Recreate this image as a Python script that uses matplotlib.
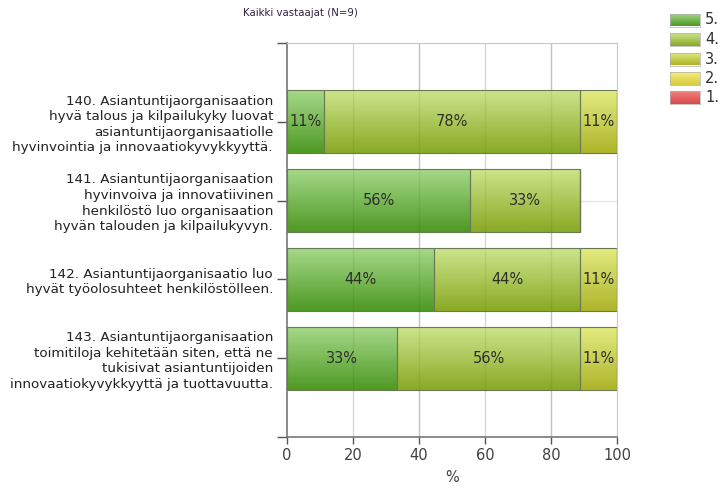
import numpy as np
import matplotlib
matplotlib.use("Agg")
import matplotlib.pyplot as plt
from matplotlib.colors import LinearSegmentedColormap

plt.rcParams['font.family'] = ['DejaVu Sans']

questions = [
    "140. Asiantuntijaorganisaation\nhyvä talous ja kilpailukyky luovat\nasiantuntijaorganisaatiolle\nhyvinvointia ja innovaatiokyvykkyyttä.",
    "141. Asiantuntijaorganisaation\nhyvinvoiva ja innovatiivinen\nhenkilöstö luo organisaation\nhyvän talouden ja kilpailukyvyn.",
    "142. Asiantuntijaorganisaatio luo\nhyvät työolosuhteet henkilöstölleen.",
    "143. Asiantuntijaorganisaation\ntoimitiloja kehitetään siten, että ne\ntukisivat asiantuntijoiden\ninnovaatiokyvykkyyttä ja tuottavuutta.",
]
n_respondents = 9
levels = ["5.", "4.", "3.", "2.", "1."]
# answer counts per question for each level
count_5 = [1, 5, 4, 3]
count_4 = [7, 3, 4, 5]
count_3 = [1, 0, 1, 1]
count_2 = [0, 0, 0, 0]
count_1 = [0, 0, 0, 0]
series = [count_5, count_4, count_3, count_2, count_1]
x_ticks = [0, 20, 40, 60, 80, 100]
title = "Kaikki vastaajat (N=9)"

# (top, bottom) colours of each gradient fill
grad = {
    "5.": ("#a6d98a", "#4f9a24"),
    "4.": ("#cde58c", "#8aaa26"),
    "3.": ("#e4ec82", "#aeb52a"),
    "2.": ("#f4ec7c", "#d8cc3c"),
    "1.": ("#f48080", "#d84848"),
}

fig = plt.figure(figsize=(7.18, 4.88), dpi=100)
ax = fig.add_axes([287/718, 51/488, 330/718, 394/488])

ypos = np.arange(len(questions))
bar_h = 0.8
left = np.zeros(len(questions))
for lvl, counts in zip(levels, series):
    vals = np.asarray(counts, dtype=float) / n_respondents * 100
    bars = ax.barh(ypos, vals, left=left, height=bar_h, color="none",
                   edgecolor="#6a7a55", linewidth=0.8, zorder=3)
    cmap = LinearSegmentedColormap.from_list(lvl, list(grad[lvl]))
    for b, v, l in zip(bars, vals, left):
        if v <= 0:
            continue
        x0, y0 = b.get_x(), b.get_y()
        w, h = b.get_width(), b.get_height()
        g = np.linspace(0, 1, 64).reshape(-1, 1)
        im = ax.imshow(g, cmap=cmap, aspect="auto",
                       extent=(x0, x0 + w, y0 + h, y0), origin="upper",
                       interpolation="bilinear", zorder=2)
        im.set_clip_path(b)
        ax.text(l + v / 2, y0 + h / 2, f"{v:.0f}%", ha="center",
                va="center", fontsize=10.5, color="#2e2e2e", zorder=4)
    left += vals

ax.set_xlim(0, 100)
ax.set_ylim(len(questions), -1)
ax.set_xticks(x_ticks)
ax.set_xticklabels([str(t) for t in x_ticks], fontsize=10.5, color="#404040")
ax.set_yticks(list(ypos))
ax.set_yticks([-1, len(questions)], minor=True)
ax.set_yticklabels(questions, fontsize=9.7, color="#222222", linespacing=1.26)
ax.tick_params(axis="y", which="both", direction="out", length=7, width=1,
               color="#555555", pad=3)
ax.tick_params(axis="x", direction="out", length=5, width=1,
               color="#555555", pad=3)
ax.set_xlabel("%", fontsize=10.5, color="#404040", labelpad=5)

# light grid, alternating shades on the x grid; a faint copy shows through the bars
for t in x_ticks[1:-1]:
    shade = "#cfcfcf" if t % 40 == 0 else "#e6e6e6"
    ax.axvline(t, color=shade, linewidth=1, zorder=1)
    ax.axvline(t, color="#000000", alpha=0.06, linewidth=1, zorder=2.5)
for y in ypos:
    ax.axhline(y, color="#e6e6e6", linewidth=1, zorder=1)

for s in ("top", "right"):
    ax.spines[s].set_color("#c8c8c8")
for s in ("left", "bottom"):
    ax.spines[s].set_color("#777777")
    ax.spines[s].set_linewidth(1.2)

fig.text(243/718, 1 - 13/488, title, fontsize=7.3, color="#302040",
         ha="left", va="center")

# legend swatches
for i, lvl in enumerate(levels):
    yc = 1 - (20 + 19.5 * i) / 488
    lax = fig.add_axes([670/718, yc - 6.5/488, 30/718, 13/488])
    cmap = LinearSegmentedColormap.from_list(lvl, list(grad[lvl]))
    lax.imshow(np.linspace(0, 1, 32).reshape(-1, 1), cmap=cmap,
               aspect="auto", interpolation="bilinear")
    lax.set_xticks([]); lax.set_yticks([])
    for s in lax.spines.values():
        s.set_color("#b0b0b0"); s.set_linewidth(0.5)
    fig.text(705/718, yc, lvl, fontsize=10.5, color="#303030",
             ha="left", va="center")

fig.savefig("out.png", dpi=100)
